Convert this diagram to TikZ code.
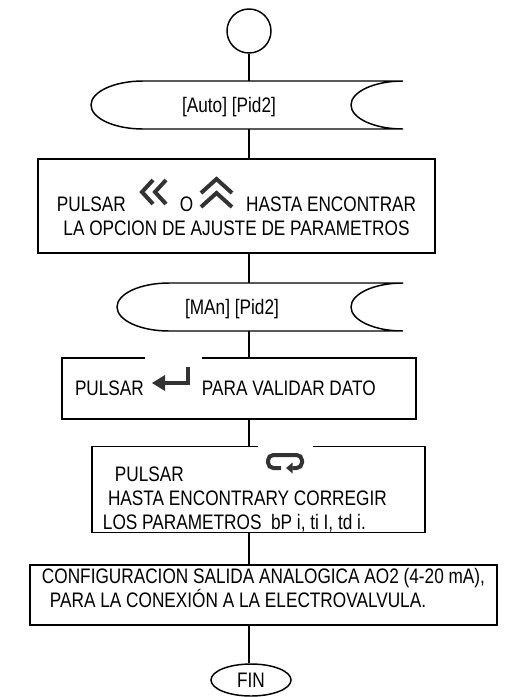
\documentclass[tikz,border=0pt]{standalone}
\usepackage{fontspec}
\setmainfont{Liberation Sans}[FakeStretch=0.82]
\usetikzlibrary{arrows.meta,shapes.geometric}

\begin{document}
\begin{tikzpicture}[
  x=0.75pt, y=-0.75pt,
  font=\fontsize{15.75}{18}\selectfont,
  line/.style={line width=1.1pt, draw=black},
  box/.style={line, rectangle, inner ysep=0pt, align=flush left},
  display/.style={inner sep=0pt, minimum height=36pt},
  startpoint/.style={line, circle, minimum size=33pt, inner sep=0pt},
  terminal/.style={line, ellipse, minimum width=60pt, minimum height=24pt, inner sep=0pt},
  icon/.style={line width=3pt, draw=black!80},
  iconbg/.style={fill=white}
]
\useasboundingbox (0,0) rectangle (523,697);

\coordinate (spine) at (249,0);

\node[startpoint] (start) at (249,31) {};
\node[display] (auto) at (229,105) {\rule{0pt}{14pt}[Auto] [Pid2]};
\node[box, align=center, minimum width=297.75pt, minimum height=70.5pt, inner xsep=0pt] (ajuste) at (236.5,206)
  {\rule{0pt}{27pt}PULSAR\hspace*{40.5pt}O\hspace*{39.75pt}HASTA ENCONTRAR\\LA OPCION DE AJUSTE DE PARAMETROS};
\node[display] (man) at (232,307) {\rule{0pt}{14pt}[MAn] [Pid2]};
\node[box, text width=246pt, inner xsep=9.75pt, minimum height=45.75pt] (valida) at (239,388.5)
  {PULSAR\hspace*{43.5pt}PARA VALIDAR DATO};
\node[box, text width=233.25pt, inner xsep=8.25pt, minimum height=63.75pt] (param) at (258.5,489.5)
  {\rule{0pt}{26.25pt}\hspace*{9pt}PULSAR\\\hspace*{3.75pt}HASTA ENCONTRARY CORREGIR\\LOS PARAMETROS\ \ bP i, ti I, td i.};
\node[box, align=left, minimum width=350.25pt, minimum height=45pt, inner xsep=0pt] (salida) at (263.5,595)
  {CONFIGURACION SALIDA ANALOGICA AO2 (4-20 mA),\\\hspace*{6pt}PARA LA CONEXIÓN A LA ELECTROVALVULA.\rule[-10pt]{0pt}{10pt}};
\node[terminal] (fin) at (251,680) {FIN};

% display outlines
\foreach \d/\l/\r in {auto/-138/174, man/-115/171} {
  \draw[line] ([shift={(\l+52,-24)}]\d.center) -- ([shift={(\r,-24)}]\d.center)
    arc[start angle=90, end angle=270, x radius=39pt, y radius=18pt]
    -- ([shift={(\l+52,24)}]\d.center)
    arc[start angle=270, end angle=90, x radius=39pt, y radius=18pt] -- cycle;
}

% connectors
\draw[line] (start) -- (auto.north -| start);
\draw[line] (auto.south -| spine) -- (ajuste.north -| spine);
\draw[line] (ajuste.south -| spine) -- (man.north -| spine);
\draw[line] (man.south -| spine) -- (valida.north -| spine);
\draw[line] (valida.south -| spine) -- (param.north -| spine);
\draw[line] (param.south -| spine) -- (salida.north -| spine);
\draw[line] (salida.south -| spine) -- (fin.north -| spine);

% key icons (their white backgrounds cut the box tops)
\fill[iconbg] (145,355) rectangle (202,362);
\fill[iconbg] (258,444) rectangle (313,451);
\draw[icon] (153,180) -- (142,192) -- (153,204);
\draw[icon] (166,180) -- (155,192) -- (166,204);
\draw[icon] (201,193) -- (216.5,179) -- (232,193);
\draw[icon] (201,207) -- (216.5,193) -- (232,207);
\draw[icon] (188,367) -- (188,383) -- (163,383);
\fill[black!80] (152,383) -- (165,375) -- (165,391) -- cycle;
\draw[icon, rounded corners=4pt, -{Triangle[length=5pt,width=8pt]}]
  (281,468) -- (268,468) -- (268,455) -- (302,455) -- (302,468) -- (286,468);

\end{tikzpicture}
\end{document}
